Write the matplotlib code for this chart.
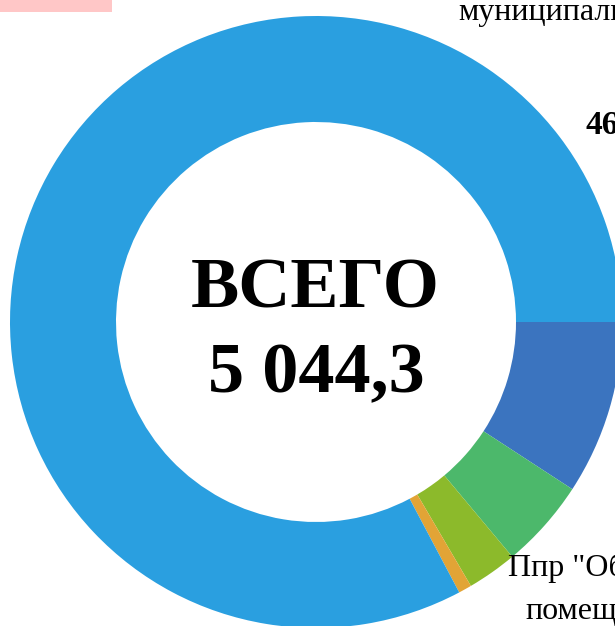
import matplotlib
matplotlib.use("Agg")
import matplotlib.pyplot as plt
from matplotlib.patches import Rectangle

# segment values, total 5 044,3
labels = ['dark', 'green', 'yellowgreen', 'orange', 'main']
values = [464.0, 238.0, 133.0, 35.0, 4174.3]
colors = ['#3B74BF', '#4CB86B', '#8CBA2B', '#E2A436', '#2A9FE0']

total_title = 'ВСЕГО'
total_value = '5 044,3'

W, H = 615, 626
fig = plt.figure(figsize=(W / 100, H / 100), dpi=100)
fig.patch.set_facecolor('white')

# donut centre ~ (316, 322) px, outer radius ~305 px, hole ~200 px
cx, cy, R = 316, 322, 306
ax = fig.add_axes([(cx - R) / W, (H - cy - R) / H, 2 * R / W, 2 * R / H])
ax.pie(values, colors=colors, startangle=0, counterclock=False,
       radius=1.0, wedgeprops=dict(width=1 - 200 / R, linewidth=0))
ax.set_xlim(-1, 1)
ax.set_ylim(-1, 1)
ax.set_aspect('equal')
ax.axis('off')

def px(x, y):
    return x / W, 1 - y / H

serif = 'Liberation Serif'

# centre text
fig.text(*px(315, 307), total_title, ha='center', va='baseline',
         fontsize=52, fontweight='bold', family=serif)
fig.text(*px(316, 392), total_value, ha='center', va='baseline',
         fontsize=52, fontweight='bold', family=serif)

# outside labels (cut by the picture edge, as in the reference)
fig.text(*px(458, 20), 'муниципальных', ha='left', va='baseline',
         fontsize=23, family=serif)
fig.text(*px(585, 134), '464,0', ha='left', va='baseline',
         fontsize=24, fontweight='bold', family=serif)
fig.text(*px(508, 576), 'Ппр "Обеспечение', ha='left', va='baseline',
         fontsize=23, family=serif)
fig.text(*px(525, 619), 'помещений', ha='left', va='baseline',
         fontsize=23, family=serif)

# pink box in the top-left corner
fig.patches.append(Rectangle(px(0, 12), 112 / W, 12 / H, transform=fig.transFigure,
                             facecolor='#FFC7C7', edgecolor='none'))

fig.savefig('out.png', dpi=100)
